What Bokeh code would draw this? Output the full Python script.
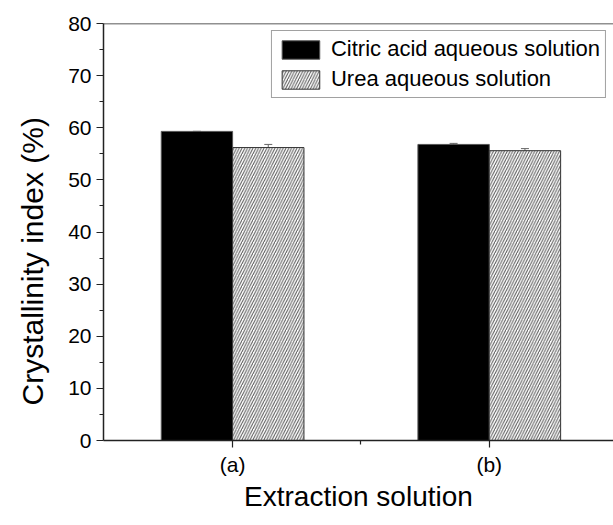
from bokeh.plotting import figure
from bokeh.models import (ColumnDataSource, Range1d, FixedTicker, Span, Whisker,
                          Legend, LegendItem, Title)
from bokeh.embed import file_html
from bokeh.resources import INLINE

# Crystallinity index by extraction solution
categories = ["(a)", "(b)"]
citric = [59.3, 56.8]
citric_err = [0.0, 0.2]
urea = [56.2, 55.6]
urea_err = [0.6, 0.4]
y_ticks = [0, 10, 20, 30, 40, 50, 60, 70, 80]

FONT = "Liberation Sans"
BAR_W = 0.278
X0, X1 = -0.503, 1.484
pos = list(range(len(categories)))

p = figure(width=613, height=525, output_backend="svg", toolbar_location=None,
           x_range=Range1d(X0, X1), y_range=Range1d(0, 80),
           min_border_left=103, min_border_top=23, min_border_bottom=85,
           min_border_right=0)
p.outline_line_color = None
p.grid.grid_line_color = None
p.background_fill_color = "white"
p.border_fill_color = "white"

src = ColumnDataSource(dict(
    xc=[x - BAR_W / 2 for x in pos], xu=[x + BAR_W / 2 for x in pos],
    citric=citric, urea=urea,
    c_lo=[v - e for v, e in zip(citric, citric_err)],
    c_hi=[v + e for v, e in zip(citric, citric_err)],
    u_lo=[v - e for v, e in zip(urea, urea_err)],
    u_hi=[v + e for v, e in zip(urea, urea_err)],
))

r_c = p.vbar(x="xc", top="citric", width=BAR_W, bottom=0, source=src,
             fill_color="black", line_color="#555555", line_width=1)
r_u = p.vbar(x="xu", top="urea", width=BAR_W, bottom=0, source=src,
             fill_color="white", line_color="#333333", line_width=1,
             hatch_pattern="/", hatch_color="#555555", hatch_scale=5.5,
             hatch_weight=1)

for lo, hi, xcol in (("c_lo", "c_hi", "xc"), ("u_lo", "u_hi", "xu")):
    w = Whisker(base=xcol, lower=lo, upper=hi, source=src,
                line_color="#666666", line_width=1)
    w.upper_head.size = 8
    w.lower_head.size = 8
    w.upper_head.line_color = "#666666"
    w.lower_head.line_color = "#666666"
    p.add_layout(w)

# top border of the frame
p.add_layout(Span(location=80, dimension="width", line_color="#222222",
                  line_width=1.5))

# x axis
xa = p.xaxis[0]
xa.ticker = FixedTicker(ticks=pos, minor_ticks=[0.5])
xa.major_label_overrides = {i: c for i, c in zip(pos, categories)}
xa.axis_label = "Extraction solution"

# y axis
ya = p.yaxis[0]
ya.ticker = FixedTicker(ticks=y_ticks, minor_ticks=[5, 15, 25, 35, 45, 55, 65, 75])

for ax in (xa, ya):
    ax.axis_line_color = "#222222"
    ax.axis_line_width = 1.5
    ax.major_tick_line_color = "#222222"
    ax.minor_tick_line_color = "#222222"
    ax.major_tick_line_width = 1.2
    ax.minor_tick_line_width = 1.2
    ax.major_tick_out = 7
    ax.major_tick_in = 0
    ax.minor_tick_out = 4
    ax.minor_tick_in = 0
    ax.major_label_text_font = FONT
    ax.major_label_text_font_size = "21px"
    ax.major_label_text_color = "black"
    ax.axis_label_text_font = FONT
    ax.axis_label_text_font_style = "normal"
    ax.axis_label_text_color = "black"

xa.major_label_standoff = 5
xa.axis_label_text_font_size = "28px"
xa.axis_label_standoff = 2
ya.major_label_standoff = 5

# y title, starting a little above the frame bottom
p.add_layout(Title(text="Crystallinity index (%)", align="left", offset=35,
                   vertical_align="top",
                   text_font=FONT, text_font_size="30px",
                   text_font_style="normal", text_color="black",
                   standoff=29), "left")

legend = Legend(items=[
    LegendItem(label="Citric acid aqueous solution", renderers=[r_c]),
    LegendItem(label="Urea aqueous solution", renderers=[r_u]),
], location="top_right")
legend.label_text_font = FONT
legend.label_text_font_size = "22px"
legend.label_text_color = "black"
legend.glyph_width = 47
legend.glyph_height = 23
legend.label_height = 23
legend.spacing = 4
legend.padding = 5
legend.margin = 7
legend.label_standoff = 7
legend.border_line_color = "#444444"
legend.border_line_width = 1
legend.background_fill_alpha = 1
p.add_layout(legend)

open("out.html", "w").write(file_html(p, INLINE))
